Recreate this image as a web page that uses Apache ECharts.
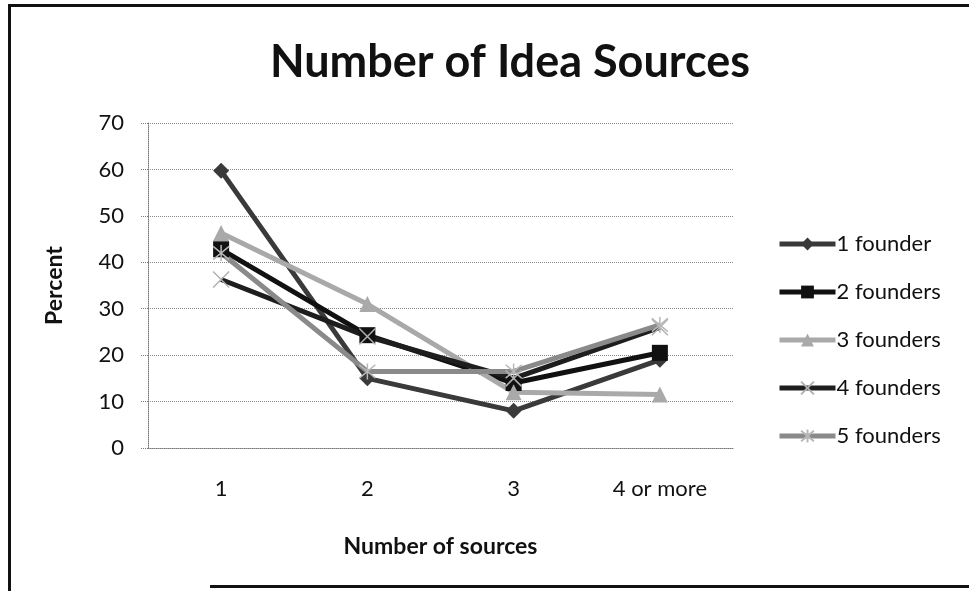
<!DOCTYPE html>
<html>
<head>
<meta charset="utf-8">
<script src="https://cdn.jsdelivr.net/npm/echarts@6/dist/echarts.min.js"></script>
<style>
  html, body { margin: 0; padding: 0; background: #fff; }
  #main { width: 969px; height: 591px; }
</style>
</head>
<body>
<div id="main"></div>
<script>
// categories and values
const categories = ['1', '2', '3', '4 or more'];
const seriesNames = ['1 founder', '2 founders', '3 founders', '4 founders', '5 founders'];
const oneFounder = [59.7, 15, 8, 19];
const twoFounders = [42.8, 24.3, 14, 20.5];
const threeFounders = [46.3, 31, 12, 11.5];
const fourFounders = [36.3, 24, 15, 26];
const fiveFounders = [42, 16.5, 16.5, 26.5];
const yTicks = [0, 10, 20, 30, 40, 50, 60, 70];

const FONT = 'Lato, "Liberation Sans", sans-serif';

// X and asterisk markers (stroked paths)
const crossPath = 'path://M0,0L10,10M10,0L0,10';
const starPath = 'path://M0,0L10,10M10,0L0,10M5,-1L5,11';

function lineSeries(name, data, lineColor, symbol, symbolSize, markColor, stroked) {
    return {
        name: name,
        type: 'line',
        data: data,
        symbol: symbol,
        symbolSize: symbolSize,
        showAllSymbol: true,
        lineStyle: { color: lineColor, width: 5 },
        itemStyle: stroked
            ? { color: 'rgba(0,0,0,0)', borderColor: markColor, borderWidth: 1.5 }
            : { color: markColor, borderColor: markColor, borderWidth: 0 },
        emphasis: { disabled: true }
    };
}

const chart = echarts.init(document.getElementById('main'));

const option = {
    animation: false,
    textStyle: { fontFamily: FONT },
    title: {
        text: 'Number of Idea Sources',
        left: 505,
        textAlign: 'center',
        top: 35,
        textStyle: { fontFamily: FONT, fontSize: 45, fontWeight: 'bold', color: '#111' }
    },
    graphic: [
        { type: 'rect', shape: { x: 8, y: 4, width: 961, height: 3 }, style: { fill: '#111' } },
        { type: 'rect', shape: { x: 8, y: 4, width: 3, height: 587 }, style: { fill: '#111' } },
        { type: 'rect', shape: { x: 210, y: 585, width: 759, height: 3 }, style: { fill: '#111' } }
    ],
    legend: {
        orient: 'vertical',
        left: 772,
        top: 228,
        itemWidth: 56,
        itemHeight: 16,
        itemGap: 26,
        data: seriesNames,
        lineStyle: { width: 5 },
        textStyle: { fontFamily: FONT, fontSize: 22, color: '#111', padding: [0, 0, 0, -4] }
    },
    grid: { left: 148, right: 236, top: 123, bottom: 143 },
    xAxis: {
        type: 'category',
        data: categories,
        boundaryGap: true,
        name: 'Number of sources',
        nameLocation: 'middle',
        nameGap: 87,
        nameTextStyle: { fontFamily: FONT, fontSize: 23, fontWeight: 'bold', color: '#111' },
        axisLine: { lineStyle: { color: '#777', type: 'dotted', width: 1 } },
        axisTick: { show: false },
        axisLabel: { margin: 30, fontFamily: FONT, fontSize: 22, color: '#111' }
    },
    yAxis: {
        type: 'value',
        min: yTicks[0],
        max: yTicks[yTicks.length - 1],
        interval: 10,
        name: 'Percent',
        nameLocation: 'middle',
        nameGap: 82,
        nameTextStyle: { fontFamily: FONT, fontSize: 23, fontWeight: 'bold', color: '#111' },
        axisLine: { show: true, lineStyle: { color: '#777', type: 'dotted', width: 1 } },
        axisTick: { show: true, length: 7, lineStyle: { color: '#777', type: 'dotted' } },
        axisLabel: { margin: 24, fontFamily: FONT, fontSize: 22, color: '#111' },
        splitLine: { lineStyle: { color: '#888', type: 'dotted', width: 1 } }
    },
    series: [
        lineSeries(seriesNames[0], oneFounder, '#3a3a3a', 'diamond', 16, '#3a3a3a', false),
        lineSeries(seriesNames[1], twoFounders, '#111111', 'rect', 16, '#111111', false),
        lineSeries(seriesNames[2], threeFounders, '#a9a9a9', 'triangle', 16, '#a9a9a9', false),
        lineSeries(seriesNames[3], fourFounders, '#1e1e1e', crossPath, 16, '#b0b0b0', true),
        lineSeries(seriesNames[4], fiveFounders, '#8a8a8a', starPath, 16, '#b8b8b8', true)
    ]
};

chart.setOption(option);
</script>
</body>
</html>
